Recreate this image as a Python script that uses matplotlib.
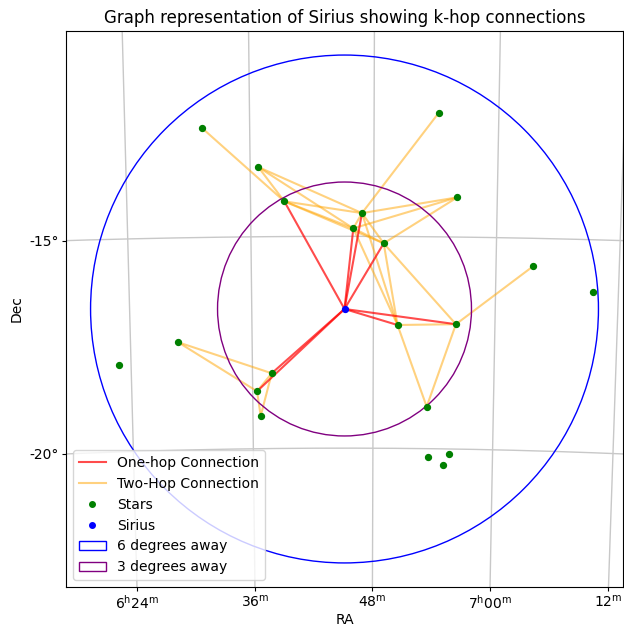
import numpy as np
import matplotlib
matplotlib.use("Agg")
import matplotlib.pyplot as plt
from matplotlib.patches import Circle, Patch
from matplotlib.lines import Line2D

# Sirius position (degrees)
sirius_ra = 101.287
sirius_dec = -16.716

# neighbouring stars (degrees)
star_ra = [97.857, 103.553, 99.199, 99.822, 101.713, 104.029, 101.502, 102.246,
           102.597, 104.039, 97.174, 95.713, 99.478, 99.108, 99.193, 105.914,
           107.370, 103.338, 103.384, 103.902, 103.762]
star_dec = [-12.430, -12.085, -13.358, -14.170, -14.451, -14.065, -14.811, -15.163,
            -17.090, -17.057, -17.460, -17.951, -18.226, -18.647, -19.229, -15.651,
            -16.238, -19.011, -20.199, -20.108, -20.382]

# stars directly linked to Sirius
one_hop = [3, 4, 6, 7, 8, 9, 12, 13]
# links going out from the one-hop stars
two_hop = [(3, 0), (3, 2), (3, 4), (3, 6), (3, 7),
           (4, 1), (4, 2), (4, 5), (4, 6), (4, 7), (4, 8),
           (6, 2), (6, 5), (6, 7), (6, 8),
           (7, 5), (7, 8), (7, 9),
           (8, 9), (8, 17),
           (9, 15), (9, 17),
           (12, 10), (12, 13), (12, 14),
           (13, 10), (13, 14)]

radii = [6, 3]
ra_grid = [96, 99, 102, 105, 108]
ra_labels = [r"6$^\mathrm{h}$24$^\mathrm{m}$", r"36$^\mathrm{m}$", r"48$^\mathrm{m}$",
             r"7$^\mathrm{h}$00$^\mathrm{m}$", r"12$^\mathrm{m}$"]
dec_grid = [-15, -20]
dec_labels = ["-15°", "-20°"]


def tan_proj(ra, dec):
    # gnomonic projection around Sirius, result in degrees
    ra = np.radians(np.asarray(ra, dtype=float))
    dec = np.radians(np.asarray(dec, dtype=float))
    a0 = np.radians(sirius_ra)
    d0 = np.radians(sirius_dec)
    cosc = np.sin(d0) * np.sin(dec) + np.cos(d0) * np.cos(dec) * np.cos(ra - a0)
    x = np.cos(dec) * np.sin(ra - a0) / cosc
    y = (np.cos(d0) * np.sin(dec) - np.sin(d0) * np.cos(dec) * np.cos(ra - a0)) / cosc
    return np.degrees(x), np.degrees(y)


sx, sy = tan_proj(star_ra, star_dec)
cx, cy = tan_proj(sirius_ra, sirius_dec)

fig = plt.figure(figsize=(6.24, 6.26), dpi=100)
ax = fig.add_axes([0.1058, 0.0623, 0.8926, 0.8882])
xlim = (-6.58, 6.58)
ylim = (-6.567, 6.567)

# coordinate grid
xticks = []
for ra in ra_grid:
    d = np.linspace(-32, -2, 300)
    gx, gy = tan_proj(np.full_like(d, ra), d)
    ax.plot(gx, gy, color="#c8c8c8", lw=1, zorder=0)
    xticks.append(np.interp(ylim[0], gy, gx))
yticks = []
for dec in dec_grid:
    r = np.linspace(88, 115, 300)
    gx, gy = tan_proj(r, np.full_like(r, dec))
    ax.plot(gx, gy, color="#c8c8c8", lw=1, zorder=0)
    yticks.append(np.interp(xlim[0], gx, gy))

for i, j in two_hop:
    ax.plot([sx[i], sx[j]], [sy[i], sy[j]], color="orange", alpha=0.5, lw=1.5, zorder=1)
for i in one_hop:
    ax.plot([cx, sx[i]], [cy, sy[i]], color="red", alpha=0.7, lw=1.5, zorder=2)

ax.scatter(sx, sy, color="green", s=18, zorder=3)
ax.scatter([cx], [cy], color="blue", s=18, zorder=4)

ax.add_patch(Circle((cx, cy), radii[0], fill=False, edgecolor="blue", lw=1, zorder=2))
ax.add_patch(Circle((cx, cy), radii[1], fill=False, edgecolor="purple", lw=1, zorder=2))

ax.set_xlim(xlim)
ax.set_ylim(ylim)
ax.set_aspect("equal")
ax.set_xticks(xticks)
ax.set_xticklabels(ra_labels)
ax.set_yticks(yticks)
ax.set_yticklabels(dec_labels)
ax.tick_params(length=3, labelsize=10, pad=2)
ax.set_xlabel("RA", labelpad=1)
ax.set_ylabel("Dec", labelpad=4)
ax.set_title("Graph representation of Sirius showing k-hop connections", fontsize=12)

handles = [Line2D([], [], color="red", alpha=0.7, lw=1.5, label="One-hop Connection"),
           Line2D([], [], color="orange", alpha=0.5, lw=1.5, label="Two-Hop Connection"),
           Line2D([], [], ls="", marker="o", color="green", ms=4, label="Stars"),
           Line2D([], [], ls="", marker="o", color="blue", ms=4, label="Sirius"),
           Patch(facecolor="none", edgecolor="blue", label="6 degrees away"),
           Patch(facecolor="none", edgecolor="purple", label="3 degrees away")]
ax.legend(handles=handles, loc="lower left", fontsize=10)

fig.savefig("out.png", dpi=100)
